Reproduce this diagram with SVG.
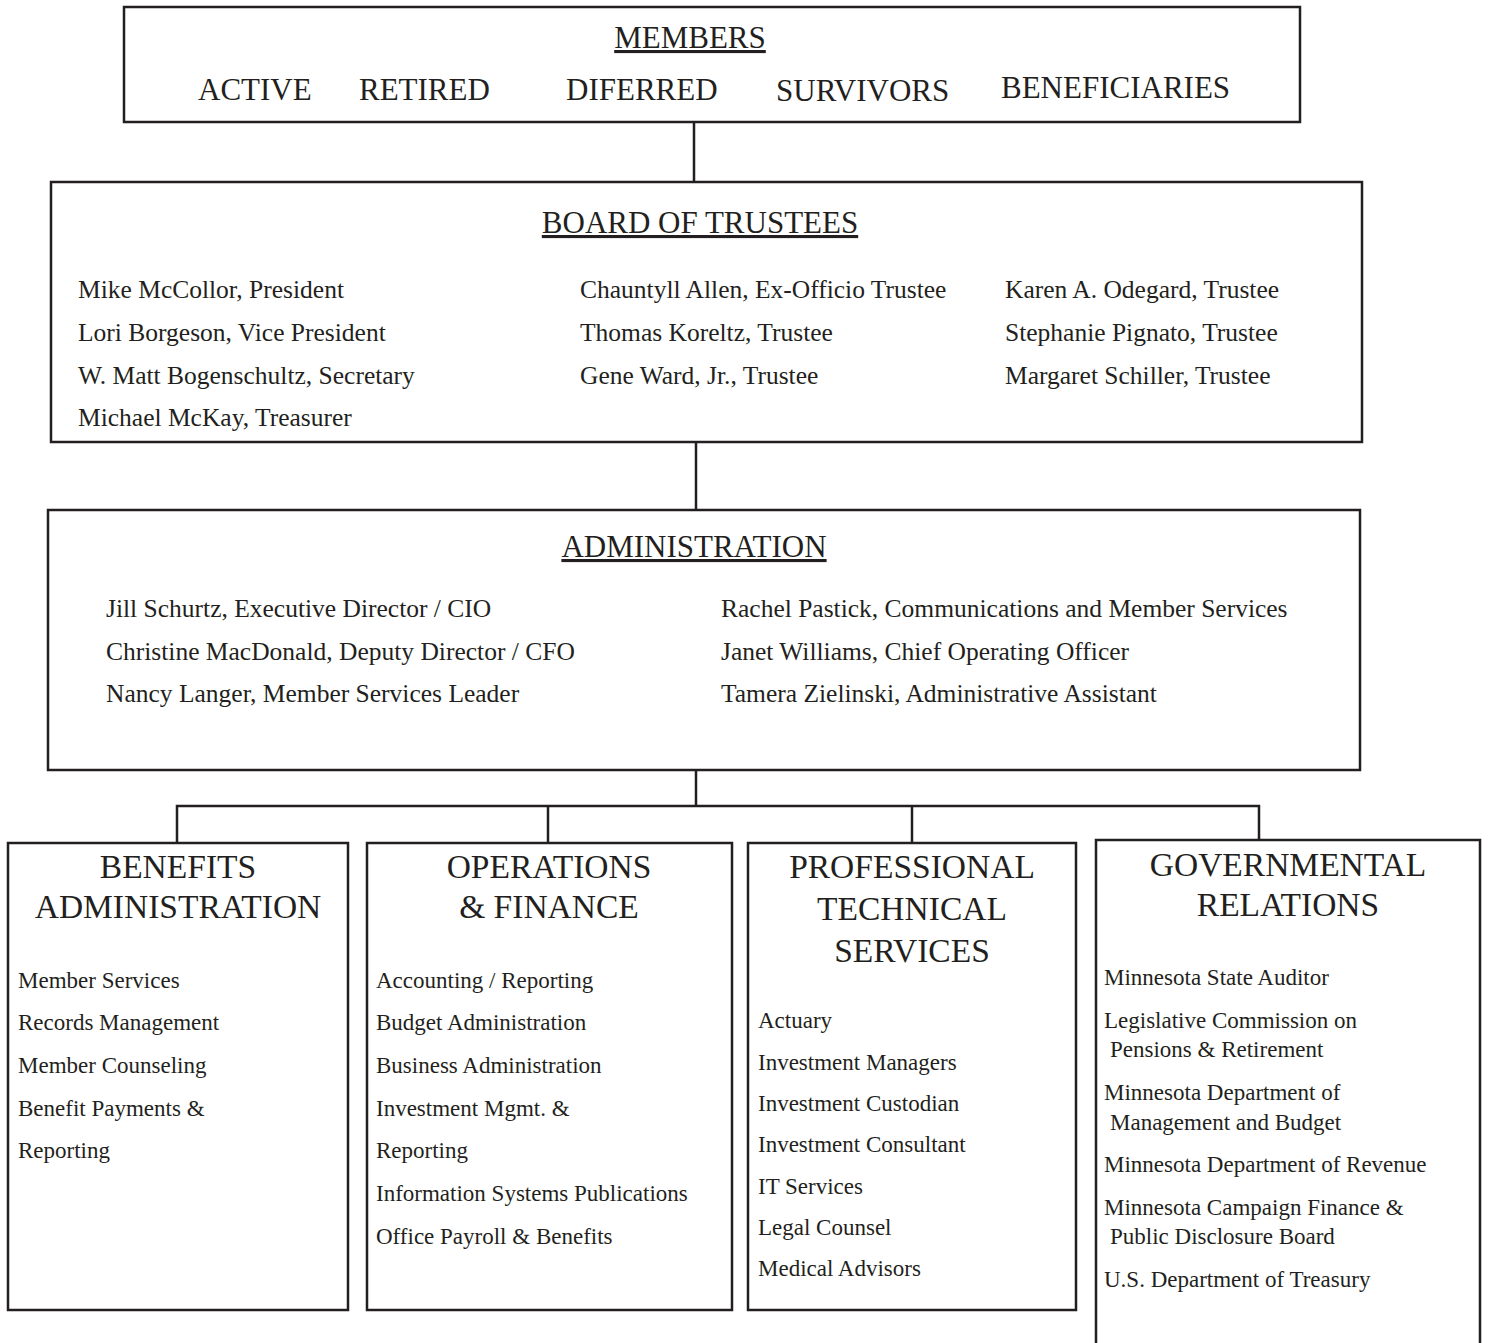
<svg xmlns="http://www.w3.org/2000/svg" width="1488" height="1343" viewBox="0 0 1488 1343">
<style>
text{font-family:"Liberation Serif","Times New Roman",serif;fill:#231f20}
.box{fill:#fff;stroke:#231f20;stroke-width:2.5}
.conn{fill:none;stroke:#231f20;stroke-width:2.5}
.hd{font-size:31px}
.ul{text-decoration:underline}
.nm{font-size:25.5px}
.sh{font-size:33.5px;text-anchor:middle}
.it{font-size:23px}
</style>
<rect width="1488" height="1343" fill="#fff"/>
<g id="connectors">
<line class="conn" x1="694" y1="122" x2="694" y2="182"/>
<line class="conn" x1="696" y1="442" x2="696" y2="510"/>
<line class="conn" x1="696" y1="770" x2="696" y2="806"/>
<polyline class="conn" points="177,843 177,806 1259,806 1259,840"/>
<line class="conn" x1="548" y1="806" x2="548" y2="843"/>
<line class="conn" x1="912" y1="806" x2="912" y2="843"/>
</g>
<g id="members">
<rect class="box" x="124" y="7" width="1176" height="115"/>
<text class="hd ul" x="690" y="48" text-anchor="middle">MEMBERS</text>
<text class="hd" x="198" y="100">ACTIVE</text>
<text class="hd" x="359" y="100">RETIRED</text>
<text class="hd" x="566" y="100">DIFERRED</text>
<text class="hd" x="776" y="101">SURVIVORS</text>
<text class="hd" x="1001" y="98">BENEFICIARIES</text>
</g>
<g id="board">
<rect class="box" x="51" y="182" width="1311" height="260"/>
<text class="hd ul" x="700" y="233" text-anchor="middle">BOARD OF TRUSTEES</text>
<text class="nm" x="78" y="298">Mike McCollor, President</text>
<text class="nm" x="78" y="341">Lori Borgeson, Vice President</text>
<text class="nm" x="78" y="384">W. Matt Bogenschultz, Secretary</text>
<text class="nm" x="78" y="426">Michael McKay, Treasurer</text>
<text class="nm" x="580" y="298">Chauntyll Allen, Ex-Officio Trustee</text>
<text class="nm" x="580" y="341">Thomas Koreltz, Trustee</text>
<text class="nm" x="580" y="384">Gene Ward, Jr., Trustee</text>
<text class="nm" x="1005" y="298">Karen A. Odegard, Trustee</text>
<text class="nm" x="1005" y="341">Stephanie Pignato, Trustee</text>
<text class="nm" x="1005" y="384">Margaret Schiller, Trustee</text>
</g>
<g id="administration">
<rect class="box" x="48" y="510" width="1312" height="260"/>
<text class="hd ul" x="694" y="557" text-anchor="middle">ADMINISTRATION</text>
<text class="nm" x="106" y="617">Jill Schurtz, Executive Director / CIO</text>
<text class="nm" x="106" y="660">Christine MacDonald, Deputy Director / CFO</text>
<text class="nm" x="106" y="702">Nancy Langer, Member Services Leader</text>
<text class="nm" x="721" y="617">Rachel Pastick, Communications and Member Services</text>
<text class="nm" x="721" y="660">Janet Williams, Chief Operating Officer</text>
<text class="nm" x="721" y="702">Tamera Zielinski, Administrative Assistant</text>
</g>
<g id="benefits">
<rect class="box" x="8" y="843" width="340" height="467"/>
<text class="sh" x="178" y="878">BENEFITS</text>
<text class="sh" x="178" y="918">ADMINISTRATION</text>
<text class="it" x="18" y="988">Member Services</text>
<text class="it" x="18" y="1030">Records Management</text>
<text class="it" x="18" y="1073">Member Counseling</text>
<text class="it" x="18" y="1116">Benefit Payments &amp;</text>
<text class="it" x="18" y="1158">Reporting</text>
</g>
<g id="operations">
<rect class="box" x="367" y="843" width="365" height="467"/>
<text class="sh" x="549" y="878">OPERATIONS</text>
<text class="sh" x="549" y="918">&amp; FINANCE</text>
<text class="it" x="376" y="988">Accounting / Reporting</text>
<text class="it" x="376" y="1030">Budget Administration</text>
<text class="it" x="376" y="1073">Business Administration</text>
<text class="it" x="376" y="1116">Investment Mgmt. &amp;</text>
<text class="it" x="376" y="1158">Reporting</text>
<text class="it" x="376" y="1201">Information Systems Publications</text>
<text class="it" x="376" y="1244">Office Payroll &amp; Benefits</text>
</g>
<g id="professional">
<rect class="box" x="748" y="843" width="328" height="467"/>
<text class="sh" x="912" y="878">PROFESSIONAL</text>
<text class="sh" x="912" y="920">TECHNICAL</text>
<text class="sh" x="912" y="962">SERVICES</text>
<text class="it" x="758" y="1028">Actuary</text>
<text class="it" x="758" y="1070">Investment Managers</text>
<text class="it" x="758" y="1111">Investment Custodian</text>
<text class="it" x="758" y="1152">Investment Consultant</text>
<text class="it" x="758" y="1194">IT Services</text>
<text class="it" x="758" y="1235">Legal Counsel</text>
<text class="it" x="758" y="1276">Medical Advisors</text>
</g>
<g id="governmental">
<path class="box" d="M1096,1345 V840 H1480 V1345"/>
<text class="sh" x="1288" y="876">GOVERNMENTAL</text>
<text class="sh" x="1288" y="916">RELATIONS</text>
<text class="it" x="1104" y="985">Minnesota State Auditor</text>
<text class="it" x="1104" y="1028">Legislative Commission on</text>
<text class="it" x="1110" y="1057">Pensions &amp; Retirement</text>
<text class="it" x="1104" y="1100">Minnesota Department of</text>
<text class="it" x="1110" y="1130">Management and Budget</text>
<text class="it" x="1104" y="1172">Minnesota Department of Revenue</text>
<text class="it" x="1104" y="1215">Minnesota Campaign Finance &amp;</text>
<text class="it" x="1110" y="1244">Public Disclosure Board</text>
<text class="it" x="1104" y="1287">U.S. Department of Treasury</text>
</g>
</svg>
